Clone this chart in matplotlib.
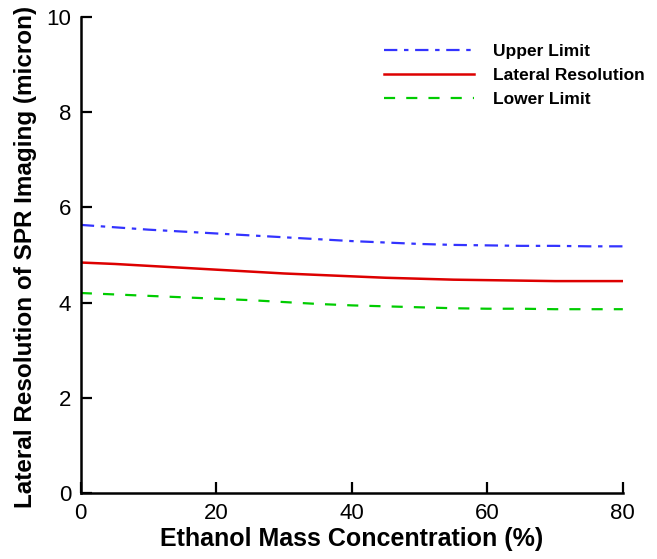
import matplotlib.pyplot as plt

conc = [0, 5, 10, 15, 20, 25, 30, 35, 40, 45, 50, 55, 60, 65, 70, 75, 80]
upper = [5.63, 5.58, 5.53, 5.49, 5.45, 5.41, 5.37, 5.33, 5.29, 5.26, 5.23, 5.21, 5.20, 5.19, 5.19, 5.18, 5.18]
lateral = [4.84, 4.81, 4.77, 4.73, 4.69, 4.65, 4.61, 4.58, 4.55, 4.52, 4.50, 4.48, 4.47, 4.46, 4.45, 4.45, 4.45]
lower = [4.20, 4.17, 4.14, 4.11, 4.08, 4.05, 4.01, 3.97, 3.94, 3.92, 3.90, 3.88, 3.87, 3.87, 3.86, 3.86, 3.86]

plt.rcParams['font.family'] = ['Liberation Sans', 'DejaVu Sans']

fig = plt.figure(figsize=(6.57, 5.59), dpi=100)
ax = fig.add_axes([0.123, 0.118, 0.825, 0.852])

ax.plot(conc, upper, color='#3333ff', lw=1.6, dashes=(6, 3, 2, 3), label='Upper Limit')
ax.plot(conc, lateral, color='#dd0000', lw=1.8, label='Lateral Resolution')
ax.plot(conc, lower, color='#00cc00', lw=1.6, dashes=(5, 5), label='Lower Limit')

ax.set_xlim(0, 80)
ax.set_ylim(0, 10)
ax.set_xticks([0, 20, 40, 60, 80])
ax.set_yticks([0, 2, 4, 6, 8, 10])
ax.spines['top'].set_visible(False)
ax.spines['right'].set_visible(False)
for s in ['left', 'bottom']:
    ax.spines[s].set_linewidth(1.8)
ax.tick_params(direction='in', length=8, width=1.6, labelsize=16, pad=7)

ax.set_xlabel('Ethanol Mass Concentration (%)', fontsize=18, fontweight='bold', labelpad=2)
ax.set_ylabel('Lateral Resolution of SPR Imaging (micron)', fontsize=17.5, fontweight='bold')
ax.yaxis.set_label_coords(-0.08, 0.496)

leg = ax.legend(loc='upper right', bbox_to_anchor=(1.07, 0.975), frameon=False,
                handlelength=5.2, handletextpad=1.1, labelspacing=0.5,
                prop={'size': 12.5, 'weight': 'bold'})

fig.savefig('out.png', dpi=100)
